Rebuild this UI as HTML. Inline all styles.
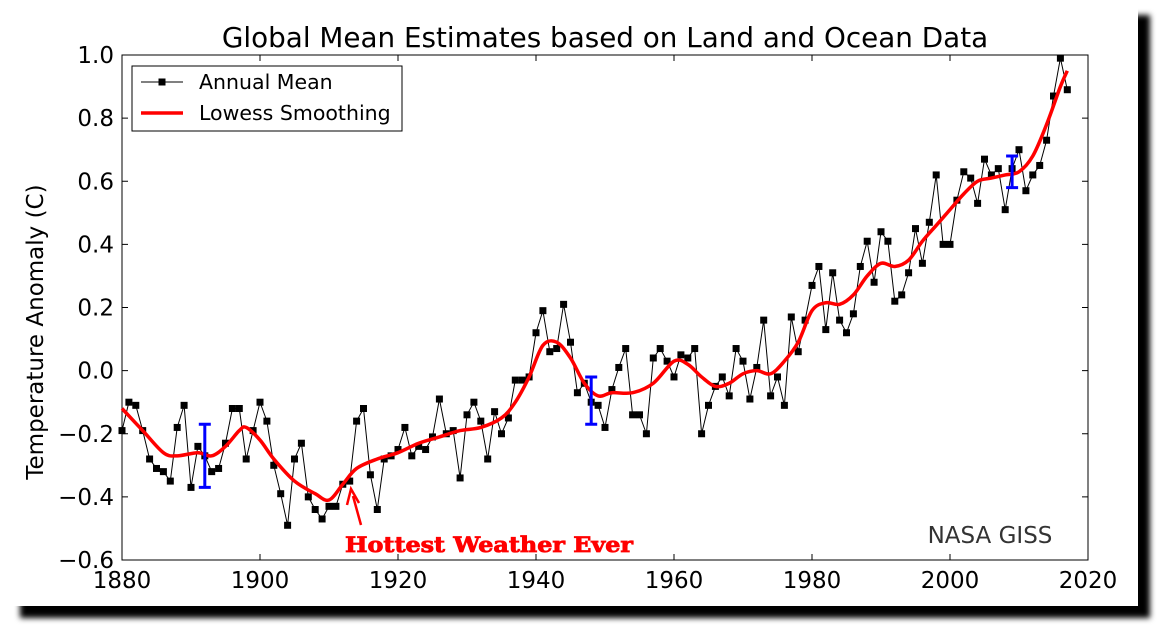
<!DOCTYPE html>
<html><head><meta charset="utf-8"><style>
body{margin:0;background:#fff;width:1166px;height:636px;overflow:hidden}
svg{display:block;font-family:"DejaVu Sans","Liberation Sans",sans-serif}
</style></head><body>
<svg id="c" width="1166" height="636">
<defs><filter id="blur" x="-5%" y="-5%" width="110%" height="110%"><feGaussianBlur stdDeviation="3"/></filter></defs>
<rect x="20" y="15" width="1130" height="603" fill="#000" filter="url(#blur)"/>
<rect x="8" y="6" width="1130" height="600" fill="#fff"/>
<text x="605" y="47" text-anchor="middle" font-size="27.8">Global Mean Estimates based on Land and Ocean Data</text>
<g id="plot"></g>
</svg>
<script>
const years=[];for(let y=1880;y<=2017;y++)years.push(y);
const annualMean=[-0.19,-0.10,-0.11,-0.19,-0.28,-0.31,-0.32,-0.35,-0.18,-0.11,-0.37,-0.24,-0.27,-0.32,-0.31,-0.23,-0.12,-0.12,-0.28,-0.19,-0.10,-0.16,-0.30,-0.39,-0.49,-0.28,-0.23,-0.40,-0.44,-0.47,-0.43,-0.43,-0.36,-0.35,-0.16,-0.12,-0.33,-0.44,-0.28,-0.27,-0.25,-0.18,-0.27,-0.24,-0.25,-0.21,-0.09,-0.20,-0.19,-0.34,-0.14,-0.10,-0.16,-0.28,-0.13,-0.20,-0.15,-0.03,-0.03,-0.02,0.12,0.19,0.06,0.07,0.21,0.09,-0.07,-0.04,-0.10,-0.11,-0.18,-0.06,0.01,0.07,-0.14,-0.14,-0.20,0.04,0.07,0.03,-0.02,0.05,0.04,0.07,-0.20,-0.11,-0.05,-0.02,-0.08,0.07,0.03,-0.09,0.01,0.16,-0.08,-0.02,-0.11,0.17,0.06,0.16,0.27,0.33,0.13,0.31,0.16,0.12,0.18,0.33,0.41,0.28,0.44,0.41,0.22,0.24,0.31,0.45,0.34,0.47,0.62,0.40,0.40,0.54,0.63,0.61,0.53,0.67,0.62,0.64,0.51,0.64,0.70,0.57,0.62,0.65,0.73,0.87,0.99,0.89];
const lowessYears=[1880,1883,1886,1888,1891,1893,1895,1897,1898,1900,1902,1905,1908,1910,1912,1914,1917,1920,1923,1926,1929,1932,1935,1937,1939,1941,1943,1945,1947,1949,1951,1954,1957,1960,1962,1964,1966,1968,1970,1972,1974,1976,1978,1980,1982,1984,1986,1988,1990,1992,1994,1996,1998,2000,2002,2004,2006,2008,2010,2012,2014,2016,2017];
const lowessVals=[-0.12,-0.19,-0.26,-0.27,-0.26,-0.27,-0.24,-0.19,-0.18,-0.22,-0.28,-0.35,-0.39,-0.41,-0.36,-0.31,-0.28,-0.26,-0.23,-0.21,-0.19,-0.18,-0.15,-0.10,-0.02,0.08,0.09,0.04,-0.04,-0.08,-0.07,-0.07,-0.04,0.03,0.02,-0.02,-0.05,-0.04,-0.01,0.00,-0.01,0.03,0.09,0.19,0.215,0.21,0.24,0.30,0.34,0.33,0.35,0.41,0.46,0.51,0.56,0.60,0.61,0.62,0.63,0.68,0.78,0.90,0.95];
const errYears=[1892,1948,2009];
const errLow=[-0.37,-0.17,0.58];
const errHigh=[-0.17,-0.02,0.68];
const xTicks=[1880,1900,1920,1940,1960,1980,2000,2020];
const yTicks=[-0.6,-0.4,-0.2,0.0,0.2,0.4,0.6,0.8,1.0];
const X0=122,X1=1088,Y0=560,Y1=55;
const sx=v=>X0+(v-1880)/(140)*(X1-X0);
const sy=v=>Y0-(v+0.6)/1.6*(Y0-Y1);
const NS="http://www.w3.org/2000/svg";
const g=document.getElementById('plot');
function mk(t,a,p){const e=document.createElementNS(NS,t);for(const k in a)e.setAttribute(k,a[k]);(p||g).appendChild(e);return e;}
let e;
e=mk('rect',{x:X0,y:Y1,width:X1-X0,height:Y0-Y1,fill:'#fff',stroke:'#000','stroke-width':1});


xTicks.forEach(t=>{
 mk('line',{x1:sx(t),x2:sx(t),y1:Y0,y2:Y0-6,stroke:'#000'});mk('line',{x1:sx(t),x2:sx(t),y1:Y1,y2:Y1+6,stroke:'#000'});
 e=mk('text',{x:sx(t),y:Y0+28,'text-anchor':'middle','font-size':23});e.textContent=t;
 
 
});
yTicks.forEach(t=>{
 mk('line',{x1:X0,x2:X0+6,y1:sy(t),y2:sy(t),stroke:'#000'});mk('line',{x1:X1,x2:X1-6,y1:sy(t),y2:sy(t),stroke:'#000'});
 e=mk('text',{x:X0-8,y:sy(t)+8,'text-anchor':'end','font-size':23});e.textContent=(t<0?'\u2212':'')+Math.abs(t).toFixed(1);
 
 
});
e=mk('text',{x:43,y:332,'text-anchor':'middle','font-size':23,transform:'rotate(-90 43 332)'});e.textContent='Temperature Anomaly (C)';


e=mk('polyline',{points:years.map((y,i)=>sx(y)+','+sy(annualMean[i])).join(' '),fill:'none',stroke:'#000','stroke-width':1});


years.forEach((y,i)=>{e=mk('rect',{x:sx(y)-3.5,y:sy(annualMean[i])-3.5,width:7,height:7,fill:'#000'});
 
 });
const P=lowessYears.map((y,i)=>[sx(y),sy(lowessVals[i])]);
let d='M'+P[0][0]+','+P[0][1];
for(let i=0;i<P.length-1;i++){const p0=P[Math.max(0,i-1)],p1=P[i],p2=P[i+1],p3=P[Math.min(P.length-1,i+2)];
 d+=`C${p1[0]+(p2[0]-p0[0])/6},${p1[1]+(p2[1]-p0[1])/6} ${p2[0]-(p3[0]-p1[0])/6},${p2[1]-(p3[1]-p1[1])/6} ${p2[0]},${p2[1]}`;}
e=mk('path',{d:d,fill:'none',stroke:'#f00','stroke-width':3.5,'stroke-linejoin':'round'});


errYears.forEach((y,i)=>{const x=sx(y),a=sy(errLow[i]),b=sy(errHigh[i]);
 e=mk('path',{d:`M${x},${a}V${b}M${x-6},${a}H${x+6}M${x-6},${b}H${x+6}`,stroke:'#00f','stroke-width':3,fill:'none'});
 
 });
const lg=mk('g',{});


mk('rect',{x:132,y:66,width:270,height:65,fill:'#fff',stroke:'#000'},lg);
mk('line',{x1:141,x2:183,y1:82,y2:82,stroke:'#000'},lg);mk('rect',{x:158.5,y:78.5,width:7,height:7},lg);
e=mk('text',{x:199,y:89,'font-size':20.5},lg);e.textContent='Annual Mean';
mk('line',{x1:141,x2:183,y1:113,y2:113,stroke:'#f00','stroke-width':3.5},lg);
e=mk('text',{x:199,y:120,'font-size':20.5},lg);e.textContent='Lowess Smoothing';
e=mk('text',{x:990,y:543,'text-anchor':'middle','font-size':23,fill:'#333'});e.textContent='NASA GISS';


e=mk('path',{d:'M361,525L353,496M347,505L351,489L359,503',stroke:'#f00','stroke-width':2.5,fill:'none'});


e=mk('text',{x:345,y:552,'font-size':21,'font-weight':'bold',fill:'#f00',stroke:'#f00','stroke-width':0.8,'font-family':'"DejaVu Serif",serif',textLength:288,lengthAdjust:'spacingAndGlyphs'});e.textContent='Hottest Weather Ever';


</script>
</body></html>
